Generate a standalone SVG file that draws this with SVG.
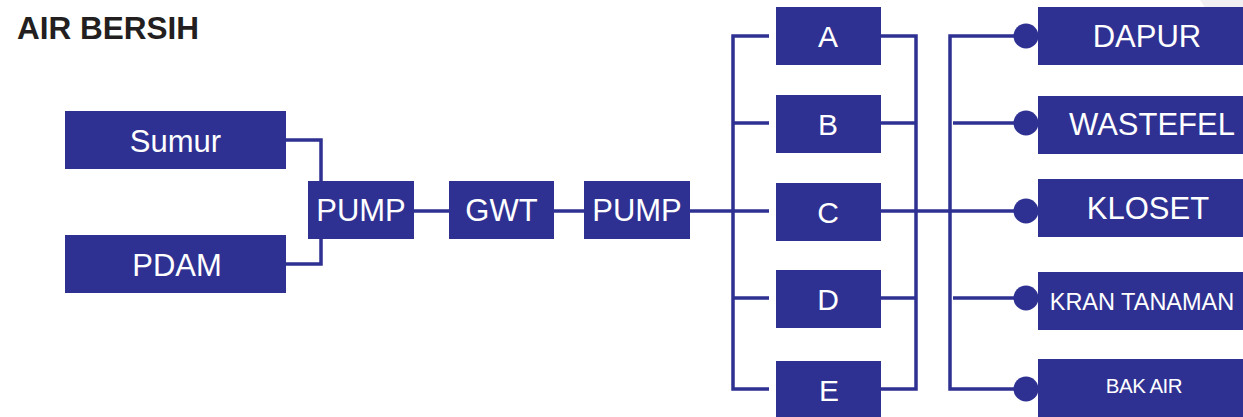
<svg xmlns="http://www.w3.org/2000/svg" width="1243" height="417" viewBox="0 0 1243 417">
<style>
.box{fill:#2e3192}
.t{fill:#ffffff;font-family:"Liberation Sans",Arial,sans-serif;text-anchor:middle}
.ln{stroke:#2e3192;stroke-width:3.5;fill:none}
.dot{fill:#2e3192}
</style>
<rect width="1243" height="417" fill="#ffffff"/>
<path d="M1200 0 L1243 0 L1243 20 L1212 18 Z" fill="#f0f0f2"/>
<text x="17" y="39" font-family="'Liberation Sans',Arial,sans-serif" font-weight="bold" font-size="31.5" fill="#231f20">AIR BERSIH</text>
<g id="connectors">
<path class="ln" d="M286 140 H321 V181"/>
<path class="ln" d="M286 264 H321 V239"/>
<path class="ln" d="M414 211 H449"/>
<path class="ln" d="M554 211 H584"/>
<path class="ln" d="M690 211 H733"/>
<path class="ln" d="M769 36 H733 V389 H769"/>
<path class="ln" d="M733 123 H769"/>
<path class="ln" d="M733 211 H769"/>
<path class="ln" d="M733 298 H769"/>
<path class="ln" d="M881 36 H916 V389 H881"/>
<path class="ln" d="M881 123 H916"/>
<path class="ln" d="M881 298 H916"/>
<path class="ln" d="M881 211 H1026"/>
<path class="ln" d="M1026 36 H950 V389 H1026"/>
<path class="ln" d="M953 123 H1026"/>
<path class="ln" d="M953 298 H1026"/>
<circle class="dot" cx="1026" cy="36" r="12.5"/>
<circle class="dot" cx="1026" cy="123" r="12.5"/>
<circle class="dot" cx="1026" cy="211" r="12.5"/>
<circle class="dot" cx="1026" cy="298" r="12.5"/>
<circle class="dot" cx="1026" cy="389" r="12.5"/>
</g>
<g id="sumur"><rect class="box" x="65" y="111" width="221" height="58"/><text class="t" x="175.5" y="152" font-size="31">Sumur</text></g>
<g id="pdam"><rect class="box" x="65" y="235" width="221" height="58"/><text class="t" x="177" y="276" font-size="31">PDAM</text></g>
<g id="pump1"><rect class="box" x="308" y="181" width="106" height="58"/><text class="t" x="361" y="221" font-size="31">PUMP</text></g>
<g id="gwt"><rect class="box" x="449" y="181" width="105" height="58"/><text class="t" x="501.5" y="221" font-size="31">GWT</text></g>
<g id="pump2"><rect class="box" x="584" y="181" width="106" height="58"/><text class="t" x="637" y="221" font-size="31">PUMP</text></g>
<g id="a"><rect class="box" x="776" y="7" width="105" height="58"/><text class="t" x="828" y="47" font-size="30">A</text></g>
<g id="b"><rect class="box" x="776" y="95" width="105" height="58"/><text class="t" x="828" y="135" font-size="30">B</text></g>
<g id="c"><rect class="box" x="776" y="183" width="105" height="58"/><text class="t" x="828" y="223" font-size="30">C</text></g>
<g id="d"><rect class="box" x="776" y="270" width="105" height="58"/><text class="t" x="828" y="310" font-size="30">D</text></g>
<g id="e"><rect class="box" x="776" y="361" width="105" height="58"/><text class="t" x="829" y="401" font-size="30">E</text></g>
<g id="dapur"><rect class="box" x="1038" y="7" width="210" height="58"/><text class="t" x="1147" y="47" font-size="31">DAPUR</text></g>
<g id="wastefel"><rect class="box" x="1038" y="96" width="210" height="58"/><text class="t" x="1152" y="135" font-size="31">WASTEFEL</text></g>
<g id="kloset"><rect class="box" x="1038" y="179" width="210" height="58"/><text class="t" x="1148" y="219" font-size="31">KLOSET</text></g>
<g id="kran"><rect class="box" x="1038" y="272" width="210" height="58"/><text class="t" x="1142" y="310" font-size="23.5">KRAN TANAMAN</text></g>
<g id="bakair"><rect class="box" x="1038" y="359" width="210" height="58"/><text class="t" x="1144" y="393" font-size="20.5" letter-spacing="-0.5">BAK AIR</text></g>
</svg>
